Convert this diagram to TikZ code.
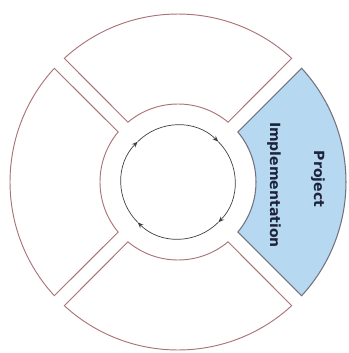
\documentclass[tikz,border=0pt]{standalone}
\usepackage{fontspec}
\newfontfamily\labelfont{DejaVu Sans}
\usetikzlibrary{arrows.meta}
\definecolor{rimred}{RGB}{170,115,120}
\definecolor{implblue}{RGB}{182,216,240}
\definecolor{rimgray}{RGB}{115,115,128}
\definecolor{textnavy}{RGB}{30,35,60}

\begin{document}
\begin{tikzpicture}[x=0.03cm,y=0.03cm,line width=0.7pt,
  sector/.style={draw=rimred,fill=white,line width=0.8pt},
  active/.style={draw=rimgray,fill=implblue,line width=0.9pt},
  cycarrow/.style={-{Stealth[length=1.8mm,width=1.4mm]},draw=black!75,line width=0.6pt},
  lbl/.style={font=\labelfont\bfseries\fontsize{12}{14}\selectfont,text=textnavy,rotate=-90}]
\useasboundingbox (-178,-171) rectangle (171,182);
% ---- four ring sectors ----
\foreach \a in {90,180,270}
  \draw[sector] (\a+42.6:168) arc (\a+42.6:\a-42.6:168) -- (\a-39.9:78)
    arc (\a-39.9:\a+39.9:78) -- cycle;
% ---- highlighted sector : project implementation ----
\draw[active] (42.6:168) arc (42.6:-42.6:168) -- (-39.9:78)
  arc (-39.9:39.9:78) -- cycle;
\node[lbl] (project) at (140,3) {Project};
\node[lbl] (impl) at (96,-3) {Implementation};
% ---- inner cycle with clockwise arrows ----
\foreach \s in {135,45,-45,-135}
  \draw[cycarrow] (\s:57) arc (\s:\s-90:57);
\end{tikzpicture}
\end{document}
